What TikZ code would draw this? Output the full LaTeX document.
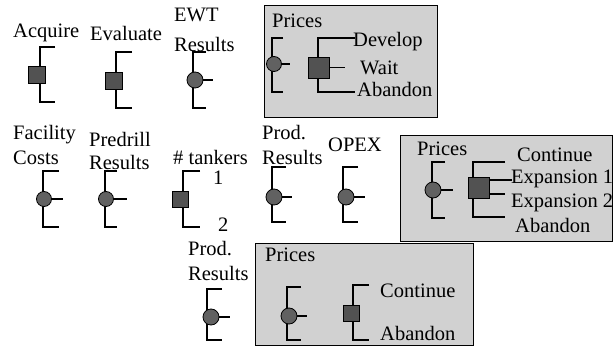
\documentclass[tikz,border=0pt]{standalone}
\usepackage{fontspec}
\setmainfont{Liberation Serif}
\newcommand\bracketlines[5]{%
  \coordinate (#1-t) at (#5,#3);
  \coordinate (#1-b) at (#5,#4);
  \coordinate (#1-v) at (#2,#3);
  \draw[brk] (#1-t) -- (#1-v) -- (#1-v |- #1-b) -- (#1-b);
}
\begin{document}
\begin{tikzpicture}[x=1pt,y=-1pt,
  lbl/.style={anchor=base west, inner sep=0pt, font=\fontsize{20.5}{24}\selectfont},
  chance/.style={circle, draw=black, line width=0.8pt, fill=black!62, minimum size=#1, inner sep=0pt},
  decision/.style={rectangle, draw=black, line width=0.8pt, fill=black!68, minimum size=#1, inner sep=0pt},
  brk/.style={line width=1.1pt, draw=black},
  box/.style={draw=black, line width=1.3pt, fill=black!18, anchor=north west, inner sep=0pt}]
\useasboundingbox (0,0) rectangle (613,347);
% shaded boxes
\node[box, minimum width=173pt, minimum height=112pt] (box1) at (264,5) {};
\node[box, minimum width=212pt, minimum height=106pt] (box2) at (400,135) {};
\node[box, minimum width=218pt, minimum height=102pt] (box3) at (255,243) {};
% brackets
\bracketlines{A}{40}{47}{102}{55}
\bracketlines{E}{116}{52}{108}{132}
\bracketlines{W}{193}{52}{108}{206}
\bracketlines{P1}{272}{38}{92}{283}
\bracketlines{D1}{318}{38}{92}{355}
\bracketlines{F}{43}{171}{227}{59}
\bracketlines{PR}{105}{171}{227}{117}
\bracketlines{T}{183}{171}{227}{200}
\bracketlines{R2}{272}{167}{222}{286}
\bracketlines{O}{343}{167}{222}{358}
\bracketlines{P2}{432}{162}{218}{445}
\bracketlines{D2}{473}{162}{217}{505}
\bracketlines{R3}{207}{289}{340}{222}
\bracketlines{P3}{287}{287}{340}{301}
\bracketlines{D3}{353}{285}{340}{369}
% chance and decision nodes
\node[decision=17pt] (A) at (37,75) {};
\node[decision=17pt] (E) at (113.5,80.5) {};
\node[chance=16pt] (W) at (195,80) {};
\node[chance=15pt] (P1) at (274,64) {};
\node[decision=21pt] (D1) at (319,67.5) {};
\node[chance=15pt] (F) at (44,199) {};
\node[chance=15pt] (PR) at (106,199) {};
\node[decision=16pt] (T) at (180,199.5) {};
\node[chance=16pt] (R2) at (274,197) {};
\node[chance=16pt] (O) at (346,197) {};
\node[chance=16pt] (P2) at (433,190) {};
\node[decision=21pt] (D2) at (478.5,187.5) {};
\node[chance=16pt] (R3) at (211,317) {};
\node[chance=16pt] (P3) at (289,316) {};
\node[decision=16pt] (D3) at (351,313) {};
% stubs
\coordinate (W-s) at (213,80);   \draw[brk] (W) -- (W-s);
\coordinate (P1-s) at (290,64);  \draw[brk] (P1) -- (P1-s);
\coordinate (D1-s) at (345,67.5);\draw[brk] (D1) -- (D1-s);
\coordinate (F-s) at (63,199);   \draw[brk] (F) -- (F-s);
\coordinate (PR-s) at (127,199); \draw[brk] (PR) -- (PR-s);
\coordinate (R2-s) at (292,197); \draw[brk] (R2) -- (R2-s);
\coordinate (O-s) at (365,197);  \draw[brk] (O) -- (O-s);
\coordinate (P2-s) at (453,190); \draw[brk] (P2) -- (P2-s);
\coordinate (D2-s1) at (512,180);\draw[brk] (D2-s1 -| D2.east) -- (D2-s1);
\coordinate (D2-s2) at (505,194);\draw[brk] (D2-s2 -| D2.east) -- (D2-s2);
\coordinate (R3-s) at (230,317); \draw[brk] (R3) -- (R3-s);
\coordinate (P3-s) at (307,316); \draw[brk] (P3) -- (P3-s);
% labels
\node[lbl] (tAcq) at (13,38) {Acquire};
\node[lbl] (tEval) at (90,41) {Evaluate};
\node[lbl] (tEWT1) at (174,22) {EWT};
\node[lbl] (tEWT2) at (174,52) {Results};
\node[lbl] (tPr1) at (272,28) {Prices};
\node[lbl] (tDev) at (353,47) {Develop};
\node[lbl] (tWait) at (360,75) {Wait};
\node[lbl] (tAb1) at (357,97) {Abandon};
\node[lbl] (tFac1) at (13,140) {Facility};
\node[lbl] (tFac2) at (13,165) {Costs};
\node[lbl] (tPre1) at (89,147) {Predrill};
\node[lbl] (tPre2) at (89,170) {Results};
\node[lbl] (tTank) at (173,165) {\# tankers};
\node[lbl] (t1) at (213,185) {1};
\node[lbl] (t2) at (218,232) {2};
\node[lbl] (tProd1) at (262,140) {Prod.};
\node[lbl] (tProd2) at (262,165) {Results};
\node[lbl] (tOpex) at (328,152) {OPEX};
\node[lbl] (tPr2) at (417,156) {Prices};
\node[lbl] (tCont2) at (517,162) {Continue};
\node[lbl] (tExp1) at (511,184) {Expansion 1};
\node[lbl] (tExp2) at (511,208) {Expansion 2};
\node[lbl] (tAb2) at (515,233) {Abandon};
\node[lbl] (tProd3) at (188,256) {Prod.};
\node[lbl] (tProd4) at (188,280) {Results};
\node[lbl] (tPr3) at (265,262) {Prices};
\node[lbl] (tCont3) at (380,298) {Continue};
\node[lbl] (tAb3) at (380,340) {Abandon};
\end{tikzpicture}
\end{document}
